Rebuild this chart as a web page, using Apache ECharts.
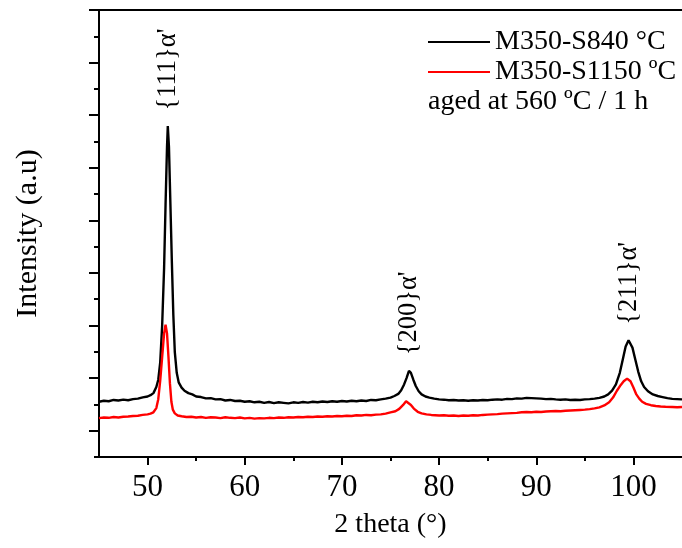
<!DOCTYPE html>
<html>
<head>
<meta charset="utf-8">
<script src="https://cdn.jsdelivr.net/npm/echarts@6/dist/echarts.min.js"></script>
<style>
  html, body { margin: 0; padding: 0; background: #ffffff; }
  #chart { width: 682px; height: 548px; }
</style>
</head>
<body>
<div id="chart"></div>
<script>
// XRD patterns, [2θ (deg), intensity (a.u.)]
const s840 = [
  [45,1050],[45.5,1070],[46,1060],[46.5,1085],[47,1075],[47.5,1090],[48,1080],[48.5,1100],
  [49,1110],[49.5,1135],[50,1150],[50.3,1175],[50.6,1215],[50.9,1330],[51.1,1470],[51.3,1800],
  [51.5,2500],[51.7,3600],[51.85,4800],[52,5900],[52.08,6295],[52.2,5900],[52.35,4800],[52.5,3700],
  [52.65,2700],[52.8,2000],[53,1600],[53.2,1420],[53.5,1320],[53.8,1260],[54.2,1215],[54.6,1190],
  [55,1150],[55.5,1140],[56,1115],[56.5,1120],[57,1095],[57.5,1100],[58,1075],[58.5,1085],
  [59,1065],[59.5,1070],[60,1050],[60.5,1060],[61,1040],[61.5,1050],[62,1030],[62.5,1045],
  [63,1025],[63.5,1040],[64,1030],[64.5,1020],[65,1040],[65.5,1030],[66,1045],[66.5,1035],
  [67,1050],[67.5,1040],[68,1055],[68.5,1045],[69,1060],[69.5,1050],[70,1065],[70.5,1055],
  [71,1070],[71.5,1060],[72,1075],[72.5,1065],[73,1085],[73.5,1080],[74,1095],[74.5,1110],
  [75,1130],[75.4,1160],[75.8,1200],[76.1,1270],[76.4,1380],[76.65,1500],[76.9,1640],[77.1,1600],
  [77.35,1470],[77.6,1350],[77.9,1250],[78.2,1190],[78.6,1150],[79,1130],[79.5,1110],[80,1095],
  [80.5,1090],[81,1080],[81.5,1085],[82,1075],[82.5,1080],[83,1070],[83.5,1080],[84,1075],
  [84.5,1085],[85,1080],[85.5,1090],[86,1095],[86.5,1090],[87,1105],[87.5,1100],[88,1115],
  [88.5,1110],[89,1125],[89.5,1120],[90,1115],[90.5,1110],[91,1100],[91.5,1105],[92,1095],
  [92.5,1090],[93,1095],[93.5,1085],[94,1090],[94.5,1085],[95,1095],[95.5,1100],[96,1110],
  [96.5,1125],[97,1150],[97.4,1190],[97.8,1260],[98.2,1380],[98.6,1600],[98.9,1850],[99.2,2100],
  [99.5,2220],[99.7,2200],[99.9,2080],[100.2,1850],[100.5,1620],[100.8,1440],[101.1,1330],[101.5,1250],
  [102,1190],[102.5,1160],[103,1140],[103.5,1120],[104,1105],[104.5,1100],[105,1095]
];

const s1150 = [
  [45,740],[45.5,750],[46,745],[46.5,760],[47,750],[47.5,765],[48,770],[48.5,780],
  [49,785],[49.5,800],[50,810],[50.3,825],[50.6,850],[50.9,930],[51.1,1100],[51.3,1450],
  [51.5,1900],[51.7,2350],[51.85,2515],[52,2350],[52.15,1900],[52.3,1400],[52.45,1050],[52.6,900],
  [52.8,830],[53.1,790],[53.5,775],[54,760],[54.5,765],[55,750],[55.5,760],[56,745],
  [56.5,755],[57,750],[57.5,740],[58,755],[58.5,745],[59,740],[59.5,750],[60,735],
  [60.5,745],[61,730],[61.5,740],[62,735],[62.5,745],[63,740],[63.5,750],[64,745],
  [64.5,755],[65,750],[65.5,760],[66,755],[66.5,765],[67,760],[67.5,770],[68,765],
  [68.5,775],[69,770],[69.5,780],[70,775],[70.5,785],[71,780],[71.5,795],[72,790],
  [72.5,800],[73,795],[73.5,805],[74,810],[74.5,825],[75,850],[75.5,870],[75.9,915],
  [76.3,990],[76.6,1060],[76.8,1060],[77.1,990],[77.4,920],[77.8,860],[78.2,830],[78.7,810],
  [79.2,800],[80,790],[80.5,795],[81,785],[81.5,790],[82,780],[82.5,790],[83,785],
  [83.5,795],[84,790],[84.5,800],[85,805],[85.5,810],[86,815],[86.5,825],[87,830],
  [87.5,835],[88,840],[88.5,850],[89,855],[89.5,850],[90,860],[90.5,855],[91,865],
  [91.5,870],[92,875],[92.5,870],[93,880],[93.5,885],[94,890],[94.5,895],[95,900],
  [95.5,910],[96,925],[96.5,945],[97,980],[97.5,1040],[97.9,1130],[98.3,1260],[98.7,1370],
  [99,1440],[99.35,1490],[99.7,1440],[100,1320],[100.3,1190],[100.6,1110],[100.9,1050],[101.3,1010],
  [101.8,985],[102.3,970],[102.8,960],[103.3,955],[104,950],[104.5,945],[105,950]
];

const seriesNames = ['M350-S840 °C', 'M350-S1150 ºC'];
const peakLabels = ['{111}α\'', '{200}α\'', '{211}α\''];
const peakAngles = [52.08, 76.9, 99.5];
const xLabelTicks = [50, 60, 70, 80, 90, 100];
const yMajorTicks = [500, 1500, 2500, 3500, 4500, 5500, 6500, 7500, 8500];

const serif = 'Liberation Serif, Times New Roman, serif';

// peak annotations sit above the S840 trace
function heightAt(data, angle) {
  const hit = data.find(p => p[0] === angle);
  return hit ? hit[1] : 0;
}
const peakMarks = peakLabels.map((name, i) => ({
  name: name,
  coord: [peakAngles[i], heightAt(s840, peakAngles[i])]
}));

const chart = echarts.init(document.getElementById('chart'), null, { renderer: 'canvas' });

chart.setOption({
  animation: false,
  backgroundColor: '#ffffff',
  grid: { left: 99, right: -3, top: 10, bottom: 91, containLabel: false },
  legend: {
    data: seriesNames,
    orient: 'vertical',
    left: 423,
    top: 23,
    icon: 'rect',
    itemWidth: 62,
    itemHeight: 2,
    itemGap: 2,
    textStyle: { fontFamily: serif, fontSize: 28, color: '#000' }
  },
  graphic: [{
    type: 'text',
    left: 428,
    top: 88,
    style: { text: 'aged at 560 ºC / 1 h', font: '28px ' + serif, fill: '#000' }
  }],
  xAxis: [
    {
      type: 'value', min: 45, max: 105, interval: 5,
      name: '2 theta (°)', nameLocation: 'middle', nameGap: 54,
      nameTextStyle: { fontFamily: serif, fontSize: 28, color: '#000' },
      axisLine: { show: true, onZero: false, lineStyle: { color: '#000', width: 2 } },
      axisTick: { show: true, inside: false, length: 4, lineStyle: { color: '#000', width: 2 } },
      axisLabel: {
        margin: 15, fontFamily: serif, fontSize: 31, color: '#000',
        formatter: v => (xLabelTicks.indexOf(v) >= 0 ? String(v) : ''),
        showMinLabel: false, showMaxLabel: false
      },
      splitLine: { show: false }
    },
    {
      type: 'value', min: 45, max: 105, position: 'bottom',
      axisLine: { show: false },
      axisTick: { show: true, length: 8, customValues: xLabelTicks, lineStyle: { color: '#000', width: 2 } },
      axisLabel: { show: false },
      splitLine: { show: false }
    },
    {
      type: 'value', min: 45, max: 105, position: 'top',
      axisLine: { show: true, onZero: false, lineStyle: { color: '#000', width: 2 } },
      axisTick: { show: false },
      axisLabel: { show: false },
      splitLine: { show: false }
    }
  ],
  yAxis: [
    {
      type: 'value', min: 0, max: 8500, interval: 1000,
      name: 'Intensity (a.u)', nameLocation: 'middle', nameGap: 56,
      nameTextStyle: { fontFamily: serif, fontSize: 30, color: '#000' },
      axisLine: { show: true, onZero: false, lineStyle: { color: '#000', width: 2 } },
      axisTick: { show: true, inside: false, length: 5, lineStyle: { color: '#000', width: 2 } },
      axisLabel: { show: false },
      splitLine: { show: false }
    },
    {
      type: 'value', min: 0, max: 8500, position: 'left',
      axisLine: { show: false },
      axisTick: { show: true, length: 10, customValues: yMajorTicks, lineStyle: { color: '#000', width: 2 } },
      axisLabel: { show: false },
      splitLine: { show: false }
    }
  ],
  series: [
    {
      name: seriesNames[0],
      type: 'line',
      data: s840,
      symbol: 'none',
      lineStyle: { color: '#000000', width: 2.4 },
      itemStyle: { color: '#000000' },
      z: 3,
      markPoint: {
        symbol: 'circle',
        symbolSize: 1,
        itemStyle: { color: 'rgba(0,0,0,0)' },
        label: {
          show: true,
          position: 'top',
          distance: 15,
          rotate: 90,
          align: 'left',
          verticalAlign: 'middle',
          formatter: '{b}',
          fontFamily: serif,
          fontSize: 26.5,
          color: '#000'
        },
        data: peakMarks
      }
    },
    {
      name: seriesNames[1],
      type: 'line',
      data: s1150,
      symbol: 'none',
      lineStyle: { color: '#ff0000', width: 2.4 },
      itemStyle: { color: '#ff0000' },
      z: 4
    }
  ]
});
</script>
</body>
</html>
